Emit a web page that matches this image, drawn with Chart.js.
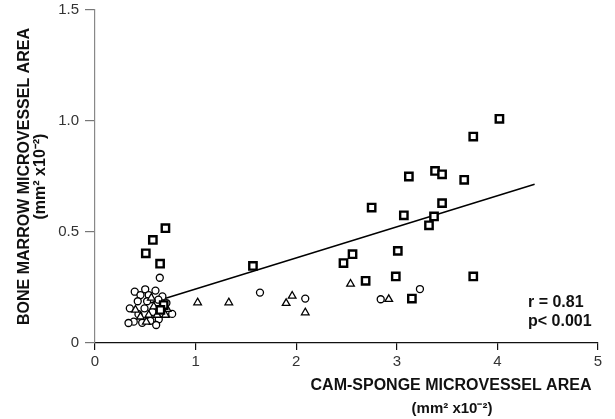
<!DOCTYPE html>
<html>
<head>
<meta charset="utf-8">
<script src="https://cdn.jsdelivr.net/npm/chart.js@4/dist/chart.umd.min.js"></script>
<style>
html,body{margin:0;padding:0;background:#fff;}
#wrap{width:615px;height:419px;}
</style>
</head>
<body>
<div id="wrap"><canvas id="c" width="615" height="419"></canvas></div>
<script>
// ---- data ----
const squareX = [4.02, 3.76, 3.12, 3.38, 3.45, 3.67, 2.75, 3.45, 3.07, 3.37, 3.32, 3.01, 2.99, 3.76, 3.15, 2.69, 2.47, 2.56, 1.57, 0.70, 0.575, 0.505, 0.647, 0.683, 0.65];
const squareY = [1.01, 0.93, 0.75, 0.775, 0.76, 0.735, 0.61, 0.63, 0.575, 0.57, 0.53, 0.415, 0.30, 0.30, 0.20, 0.28, 0.36, 0.40, 0.347, 0.517, 0.464, 0.404, 0.357, 0.171, 0.149];

const circleX = [0.644, 1.64, 2.09, 2.84, 3.23,
  0.395, 0.499, 0.601, 0.452, 0.534, 0.425, 0.518, 0.346, 0.492, 0.767, 0.385, 0.469, 0.634, 0.608, 0.67, 0.571, 0.432, 0.333, 0.55, 0.71, 0.63];
const circleY = [0.294, 0.227, 0.20, 0.197, 0.243,
  0.231, 0.242, 0.236, 0.216, 0.216, 0.188, 0.188, 0.156, 0.156, 0.131, 0.096, 0.091, 0.107, 0.081, 0.21, 0.14, 0.13, 0.09, 0.10, 0.18, 0.195];

const triangleX = [1.02, 1.33, 1.90, 1.96, 2.09, 2.54, 2.92,
  0.402, 0.584, 0.717, 0.70, 0.618, 0.534, 0.452, 0.51, 0.56];
const triangleY = [0.182, 0.182, 0.179, 0.212, 0.137, 0.266, 0.197,
  0.149, 0.164, 0.152, 0.126, 0.126, 0.126, 0.118, 0.095, 0.203];

const fitX = [0.55, 4.37];
const fitY = [0.18, 0.715];

const xTicks = [0, 1, 2, 3, 4, 5];
const yTicks = [0, 0.5, 1.0, 1.5];
const xTitle = ['CAM-SPONGE MICROVESSEL AREA', '(mm\u00B2 x10\u207B\u00B2)'];
const yTitle = ['BONE MARROW MICROVESSEL AREA', '(mm\u00B2 x10\u207B\u00B2)'];
const statLines = ['r = 0.81', 'p< 0.001'];

// ---- build ----
const pts = (xs, ys) => xs.map((x, i) => ({x: x, y: ys[i]}));
const FONT = "'Liberation Sans', Arial, Helvetica, sans-serif";

const textPlugin = {
  id: 'texts',
  afterDraw(chart) {
    const ctx = chart.ctx;
    ctx.save();
    ctx.fillStyle = '#111';
    ctx.font = 'bold 16px ' + FONT;
    ctx.textAlign = 'center';
    ctx.textBaseline = 'middle';
    ctx.fillText(xTitle[0], 451, 386);
    ctx.font = 'bold 15px ' + FONT;
    ctx.fillText(xTitle[1], 452, 409);
    ctx.font = 'bold 16px ' + FONT;
    ctx.textAlign = 'left';
    ctx.fillText(statLines[0], 528, 303);
    ctx.fillText(statLines[1], 528, 322);
    ctx.restore();
  }
};

new Chart(document.getElementById('c'), {
  type: 'scatter',
  data: {
    datasets: [
      {
        label: 'fit', type: 'line', data: pts(fitX, fitY),
        borderColor: '#000', borderWidth: 1.5, pointRadius: 0, fill: false, order: 10
      },
      {
        label: 'squares', data: pts(squareX, squareY), pointStyle: 'rect',
        pointRadius: 5.2, pointBorderWidth: 2.4, borderColor: '#000', backgroundColor: '#fff', order: 1
      },
      {
        label: 'circles', data: pts(circleX, circleY), pointStyle: 'circle',
        pointRadius: 3.5, pointBorderWidth: 1.3, borderColor: '#000', backgroundColor: '#fff', order: 3
      },
      {
        label: 'triangles', data: pts(triangleX, triangleY), pointStyle: 'triangle',
        pointRadius: 4.4, pointBorderWidth: 1.3, borderColor: '#000', backgroundColor: '#fff', order: 2
      }
    ]
  },
  options: {
    responsive: false,
    animation: false,
    devicePixelRatio: 1,
    layout: { padding: { top: 0, right: 17, left: 0, bottom: 0 } },
    plugins: { legend: { display: false }, tooltip: { enabled: false } },
    scales: {
      x: {
        type: 'linear', min: 0, max: 5,
        afterBuildTicks(scale) { scale.ticks = xTicks.map(v => ({value: v})); },
        afterFit(scale) { scale.height = 76; },
        border: { display: true, color: '#111', width: 1.2 },
        grid: { drawOnChartArea: false, drawTicks: true, tickLength: 7, color: '#111', lineWidth: 1.2 },
        ticks: { color: '#333', font: { family: FONT, size: 15 }, padding: 3, callback: v => String(v) }
      },
      y: {
        type: 'linear', min: 0, max: 1.5,
        afterBuildTicks(scale) { scale.ticks = yTicks.map(v => ({value: v})); },
        afterFit(scale) { scale.width = 95; scale.paddingTop = 10; scale.paddingBottom = 9; },
        border: { display: true, color: '#888', width: 1.2 },
        grid: { drawOnChartArea: false, drawTicks: true, tickLength: 10, color: '#777', lineWidth: 1.2 },
        ticks: { color: '#333', font: { family: FONT, size: 15 }, padding: 6,
          callback: v => (v === 0 ? '0' : Number(v).toFixed(1)) },
        title: {
          display: true, text: yTitle, color: '#111',
          font: { family: FONT, size: 16, weight: 'bold', lineHeight: 0.97 },
          padding: { top: 17, bottom: 0 }
        }
      }
    }
  },
  plugins: [textPlugin]
});
</script>
</body>
</html>
